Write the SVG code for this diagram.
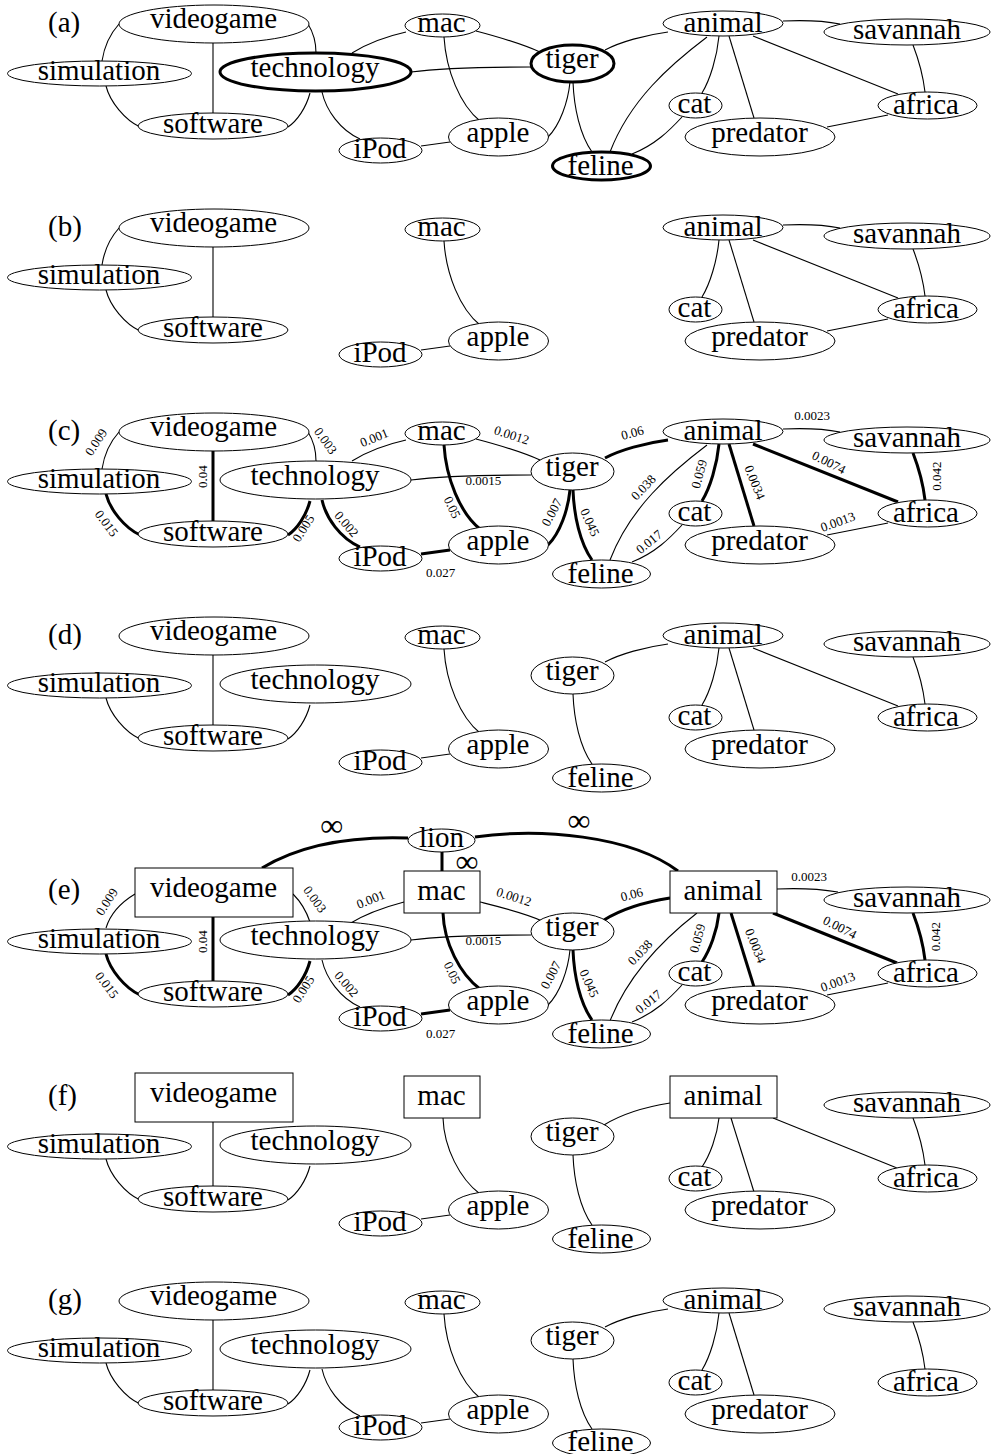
<svg xmlns="http://www.w3.org/2000/svg" width="992" height="1454" viewBox="0 0 992 1454">
<style>
.nd{fill:#fff;stroke:#000;stroke-width:1}
.bd{fill:#fff;stroke:#000;stroke-width:3}
.e{fill:none;stroke:#000;stroke-width:1.1}
.t{fill:none;stroke:#000;stroke-width:3}
.lb{font-family:"Liberation Serif","Times New Roman",serif;font-size:29px;text-anchor:middle;fill:#000}
.w{font-family:"Liberation Serif","Times New Roman",serif;font-size:13px;text-anchor:middle;dominant-baseline:central;fill:#000}
.pl{font-family:"Liberation Serif","Times New Roman",serif;font-size:29px;fill:#000}
.inf{font-family:"Liberation Serif","DejaVu Serif",serif;font-size:32px;text-anchor:middle;fill:#000}
</style>
<defs>
<path id="E_vs" d="M119,24 C110,34 104,48 102,61"/>
<path id="E_ss" d="M106,86 C110,102 125,120 140,127"/>
<path id="E_vw" d="M213,43 L213,113"/>
<path id="E_vt" d="M308,24 C313,32 316,42 316,53"/>
<path id="E_ts" d="M310,93 C306,108 297,121 288,127"/>
<path id="E_tm" d="M352,53 C368,43 388,36 406,32"/>
<path id="E_ti" d="M322,92 C326,110 340,130 360,139"/>
<path id="E_tt" d="M411,72 C440,68 480,67 531,67"/>
<path id="E_ma" d="M444,37 C446,70 460,105 480,121"/>
<path id="E_mt" d="M476,31 C495,36 520,43 540,52"/>
<path id="E_ia" d="M421,146 L450,142"/>
<path id="E_ta" d="M570,82 C568,102 560,125 548,137"/>
<path id="E_tf" d="M573,82 C574,108 580,135 592,152"/>
<path id="E_tn" d="M605,50 C620,42 645,35 668,32"/>
<path id="E_nf" d="M707,37 C670,65 630,100 610,152"/>
<path id="E_nc" d="M719,36 C717,57 710,80 702,93"/>
<path id="E_np" d="M729,36 L754,118"/>
<path id="E_na" d="M753,36 L898,94"/>
<path id="E_ns" d="M783,21 C805,20 825,21 840,24"/>
<path id="E_sa" d="M913,45 C918,58 923,75 925,92"/>
<path id="E_cf" d="M682,117 C670,130 655,145 632,154"/>
<path id="E_pa" d="M827,127 L888,115"/>
<path id="R_vs" d="M135,26 C120,35 110,47 106,60"/>
<path id="R_vt" d="M293,26 C302,35 307,45 310,54"/>
<path id="R_vw" d="M213,49 L213,113"/>
<path id="R_mt" d="M404,34 C385,39 365,46 349,56"/>
<path id="R_mg" d="M480,34 C500,39 525,45 542,53"/>
<path id="R_ma" d="M443,45 C444,75 460,106 480,121"/>
<path id="R_tn" d="M604,52 C620,42 645,34 670,30"/>
<path id="R_nf" d="M697,45 C670,66 630,102 610,153"/>
<path id="R_nc" d="M719,45 C717,63 710,82 702,94"/>
<path id="R_np" d="M731,45 L754,119"/>
<path id="R_na" d="M773,45 L897,95"/>
<path id="R_ns" d="M777,21 C800,20 820,21 838,24"/>
<path id="L_v" d="M262,0 C300,-23 350,-32 408,-30"/>
<path id="L_a" d="M475,-31 C540,-40 630,-33 678,3"/>
<path id="L_m" d="M442,-16 L442,3"/>
</defs>

<!-- ================= (a) ================= -->
<g id="panel-a">
<text class="pl" x="48" y="31.5">(a)</text>
<g id="a-edges">
<use href="#E_vs" class="e"/><use href="#E_ss" class="e"/><use href="#E_vw" class="e"/><use href="#E_vt" class="e"/>
<use href="#E_ts" class="e"/><use href="#E_tm" class="e"/><use href="#E_ti" class="e"/><use href="#E_tt" class="e"/>
<use href="#E_ma" class="e"/><use href="#E_mt" class="e"/><use href="#E_ia" class="e"/><use href="#E_ta" class="e"/>
<use href="#E_tf" class="e"/><use href="#E_tn" class="e"/><use href="#E_nf" class="e"/><use href="#E_nc" class="e"/>
<use href="#E_np" class="e"/><use href="#E_na" class="e"/><use href="#E_ns" class="e"/><use href="#E_sa" class="e"/>
<use href="#E_cf" class="e"/><use href="#E_pa" class="e"/>
</g>
<g id="a-videogame"><ellipse class="nd" cx="214" cy="24" rx="95" ry="19"/><text class="lb" x="213.5" y="28">videogame</text></g>
<g id="a-simulation"><ellipse class="nd" cx="99.5" cy="73.5" rx="92" ry="12.5"/><text class="lb" x="99" y="80">simulation</text></g>
<g id="a-technology"><ellipse class="bd" cx="315.5" cy="72" rx="95.5" ry="19"/><text class="lb" x="315" y="77">technology</text></g>
<g id="a-software"><ellipse class="nd" cx="213" cy="126" rx="75" ry="13"/><text class="lb" x="213" y="133">software</text></g>
<g id="a-mac"><ellipse class="nd" cx="442.5" cy="25.5" rx="37.5" ry="11.5"/><text class="lb" x="441.5" y="32">mac</text></g>
<g id="a-ipod"><ellipse class="nd" cx="380.5" cy="150.5" rx="41.5" ry="12.5"/><text class="lb" x="380" y="158">iPod</text></g>
<g id="a-apple"><ellipse class="nd" cx="498.5" cy="137" rx="50" ry="19"/><text class="lb" x="498" y="142">apple</text></g>
<g id="a-tiger"><ellipse class="bd" cx="572.5" cy="63.5" rx="41.5" ry="18.5"/><text class="lb" x="572" y="68">tiger</text></g>
<g id="a-feline"><ellipse class="bd" cx="601.5" cy="166" rx="49" ry="14"/><text class="lb" x="600.5" y="175">feline</text></g>
<g id="a-animal"><ellipse class="nd" cx="723" cy="23.5" rx="60" ry="12.5"/><text class="lb" x="723" y="32">animal</text></g>
<g id="a-savannah"><ellipse class="nd" cx="907" cy="32" rx="83" ry="13"/><text class="lb" x="907" y="38.5">savannah</text></g>
<g id="a-cat"><ellipse class="nd" cx="695.5" cy="105.5" rx="26.5" ry="12.5"/><text class="lb" x="694.5" y="113">cat</text></g>
<g id="a-predator"><ellipse class="nd" cx="760" cy="137" rx="75" ry="19"/><text class="lb" x="759.5" y="141.5">predator</text></g>
<g id="a-africa"><ellipse class="nd" cx="927.5" cy="105.5" rx="49.5" ry="13.5"/><text class="lb" x="926" y="113.5">africa</text></g>
</g>

<!-- ================= (b) ================= -->
<g id="panel-b" transform="translate(0,204)">
<text class="pl" x="48" y="31.5">(b)</text>
<g id="b-edges">
<use href="#E_vs" class="e"/><use href="#E_ss" class="e"/><use href="#E_vw" class="e"/>
<use href="#E_ma" class="e"/><use href="#E_ia" class="e"/>
<use href="#E_nc" class="e"/><use href="#E_np" class="e"/><use href="#E_na" class="e"/><use href="#E_ns" class="e"/>
<use href="#E_sa" class="e"/><use href="#E_pa" class="e"/>
</g>
<g id="b-videogame"><ellipse class="nd" cx="214" cy="24" rx="95" ry="19"/><text class="lb" x="213.5" y="28">videogame</text></g>
<g id="b-simulation"><ellipse class="nd" cx="99.5" cy="73.5" rx="92" ry="12.5"/><text class="lb" x="99" y="80">simulation</text></g>
<g id="b-software"><ellipse class="nd" cx="213" cy="126" rx="75" ry="13"/><text class="lb" x="213" y="133">software</text></g>
<g id="b-mac"><ellipse class="nd" cx="442.5" cy="25.5" rx="37.5" ry="11.5"/><text class="lb" x="441.5" y="32">mac</text></g>
<g id="b-ipod"><ellipse class="nd" cx="380.5" cy="150.5" rx="41.5" ry="12.5"/><text class="lb" x="380" y="158">iPod</text></g>
<g id="b-apple"><ellipse class="nd" cx="498.5" cy="137" rx="50" ry="19"/><text class="lb" x="498" y="142">apple</text></g>
<g id="b-animal"><ellipse class="nd" cx="723" cy="23.5" rx="60" ry="12.5"/><text class="lb" x="723" y="32">animal</text></g>
<g id="b-savannah"><ellipse class="nd" cx="907" cy="32" rx="83" ry="13"/><text class="lb" x="907" y="38.5">savannah</text></g>
<g id="b-cat"><ellipse class="nd" cx="695.5" cy="105.5" rx="26.5" ry="12.5"/><text class="lb" x="694.5" y="113">cat</text></g>
<g id="b-predator"><ellipse class="nd" cx="760" cy="137" rx="75" ry="19"/><text class="lb" x="759.5" y="141.5">predator</text></g>
<g id="b-africa"><ellipse class="nd" cx="927.5" cy="105.5" rx="49.5" ry="13.5"/><text class="lb" x="926" y="113.5">africa</text></g>
</g>

<!-- ================= (c) ================= -->
<g id="panel-c" transform="translate(0,408)">
<text class="pl" x="48" y="31.5">(c)</text>
<g id="c-edges">
<use href="#E_vs" class="e"/><use href="#E_ss" class="t"/><use href="#E_vw" class="t"/><use href="#E_vt" class="e"/>
<use href="#E_ts" class="t"/><use href="#E_tm" class="e"/><use href="#E_ti" class="t"/><use href="#E_tt" class="e"/>
<use href="#E_ma" class="t"/><use href="#E_mt" class="e"/><use href="#E_ia" class="t"/><use href="#E_ta" class="t"/>
<use href="#E_tf" class="t"/><use href="#E_tn" class="t"/><use href="#E_nf" class="e"/><use href="#E_nc" class="t"/>
<use href="#E_np" class="t"/><use href="#E_na" class="t"/><use href="#E_ns" class="e"/><use href="#E_sa" class="t"/>
<use href="#E_cf" class="e"/><use href="#E_pa" class="e"/>
</g>
<g id="c-weights">
<text class="w" transform="translate(96,34) rotate(-57)">0.009</text>
<text class="w" transform="translate(202.3,68.7) rotate(-90)">0.04</text>
<text class="w" transform="translate(325.7,32.7) rotate(54)">0.003</text>
<text class="w" transform="translate(106.7,115.3) rotate(53)">0.015</text>
<text class="w" transform="translate(303.3,120.3) rotate(-58)">0.005</text>
<text class="w" transform="translate(346.7,116) rotate(50)">0.002</text>
<text class="w" transform="translate(440.7,164.7)">0.027</text>
<text class="w" transform="translate(374,29.7) rotate(-22)">0.001</text>
<text class="w" transform="translate(511.7,27) rotate(18)">0.0012</text>
<text class="w" transform="translate(483.3,72)">0.0015</text>
<text class="w" transform="translate(452.3,99.3) rotate(65)">0.05</text>
<text class="w" transform="translate(551.7,104.3) rotate(-62)">0.007</text>
<text class="w" transform="translate(590,114.3) rotate(66)">0.045</text>
<text class="w" transform="translate(632.3,24.7) rotate(-15)">0.06</text>
<text class="w" transform="translate(812,7)">0.0023</text>
<text class="w" transform="translate(643.3,79.3) rotate(-47)">0.038</text>
<text class="w" transform="translate(699,66) rotate(-75)">0.059</text>
<text class="w" transform="translate(755,74.3) rotate(68)">0.0034</text>
<text class="w" transform="translate(829,54.3) rotate(27)">0.0074</text>
<text class="w" transform="translate(936.7,68) rotate(-90)">0.042</text>
<text class="w" transform="translate(649,133.7) rotate(-39)">0.017</text>
<text class="w" transform="translate(837.7,113.7) rotate(-20)">0.0013</text>
</g>
<g id="c-videogame"><ellipse class="nd" cx="214" cy="24" rx="95" ry="19"/><text class="lb" x="213.5" y="28">videogame</text></g>
<g id="c-simulation"><ellipse class="nd" cx="99.5" cy="73.5" rx="92" ry="12.5"/><text class="lb" x="99" y="80">simulation</text></g>
<g id="c-technology"><ellipse class="nd" cx="315.5" cy="72" rx="95.5" ry="19"/><text class="lb" x="315" y="77">technology</text></g>
<g id="c-software"><ellipse class="nd" cx="213" cy="126" rx="75" ry="13"/><text class="lb" x="213" y="133">software</text></g>
<g id="c-mac"><ellipse class="nd" cx="442.5" cy="25.5" rx="37.5" ry="11.5"/><text class="lb" x="441.5" y="32">mac</text></g>
<g id="c-ipod"><ellipse class="nd" cx="380.5" cy="150.5" rx="41.5" ry="12.5"/><text class="lb" x="380" y="158">iPod</text></g>
<g id="c-apple"><ellipse class="nd" cx="498.5" cy="137" rx="50" ry="19"/><text class="lb" x="498" y="142">apple</text></g>
<g id="c-tiger"><ellipse class="nd" cx="572.5" cy="63.5" rx="41.5" ry="18.5"/><text class="lb" x="572" y="68">tiger</text></g>
<g id="c-feline"><ellipse class="nd" cx="601.5" cy="166" rx="49" ry="14"/><text class="lb" x="600.5" y="175">feline</text></g>
<g id="c-animal"><ellipse class="nd" cx="723" cy="23.5" rx="60" ry="12.5"/><text class="lb" x="723" y="32">animal</text></g>
<g id="c-savannah"><ellipse class="nd" cx="907" cy="32" rx="83" ry="13"/><text class="lb" x="907" y="38.5">savannah</text></g>
<g id="c-cat"><ellipse class="nd" cx="695.5" cy="105.5" rx="26.5" ry="12.5"/><text class="lb" x="694.5" y="113">cat</text></g>
<g id="c-predator"><ellipse class="nd" cx="760" cy="137" rx="75" ry="19"/><text class="lb" x="759.5" y="141.5">predator</text></g>
<g id="c-africa"><ellipse class="nd" cx="927.5" cy="105.5" rx="49.5" ry="13.5"/><text class="lb" x="926" y="113.5">africa</text></g>
</g>

<!-- ================= (d) ================= -->
<g id="panel-d" transform="translate(0,612)">
<text class="pl" x="48" y="31.5">(d)</text>
<g id="d-edges">
<use href="#E_vw" class="e"/><use href="#E_ss" class="e"/><use href="#E_ts" class="e"/>
<use href="#E_ma" class="e"/><use href="#E_ia" class="e"/>
<use href="#E_tn" class="e"/><use href="#E_tf" class="e"/><use href="#E_nc" class="e"/><use href="#E_np" class="e"/>
<use href="#E_na" class="e"/><use href="#E_sa" class="e"/>
</g>
<g id="d-videogame"><ellipse class="nd" cx="214" cy="24" rx="95" ry="19"/><text class="lb" x="213.5" y="28">videogame</text></g>
<g id="d-simulation"><ellipse class="nd" cx="99.5" cy="73.5" rx="92" ry="12.5"/><text class="lb" x="99" y="80">simulation</text></g>
<g id="d-technology"><ellipse class="nd" cx="315.5" cy="72" rx="95.5" ry="19"/><text class="lb" x="315" y="77">technology</text></g>
<g id="d-software"><ellipse class="nd" cx="213" cy="126" rx="75" ry="13"/><text class="lb" x="213" y="133">software</text></g>
<g id="d-mac"><ellipse class="nd" cx="442.5" cy="25.5" rx="37.5" ry="11.5"/><text class="lb" x="441.5" y="32">mac</text></g>
<g id="d-ipod"><ellipse class="nd" cx="380.5" cy="150.5" rx="41.5" ry="12.5"/><text class="lb" x="380" y="158">iPod</text></g>
<g id="d-apple"><ellipse class="nd" cx="498.5" cy="137" rx="50" ry="19"/><text class="lb" x="498" y="142">apple</text></g>
<g id="d-tiger"><ellipse class="nd" cx="572.5" cy="63.5" rx="41.5" ry="18.5"/><text class="lb" x="572" y="68">tiger</text></g>
<g id="d-feline"><ellipse class="nd" cx="601.5" cy="166" rx="49" ry="14"/><text class="lb" x="600.5" y="175">feline</text></g>
<g id="d-animal"><ellipse class="nd" cx="723" cy="23.5" rx="60" ry="12.5"/><text class="lb" x="723" y="32">animal</text></g>
<g id="d-savannah"><ellipse class="nd" cx="907" cy="32" rx="83" ry="13"/><text class="lb" x="907" y="38.5">savannah</text></g>
<g id="d-cat"><ellipse class="nd" cx="695.5" cy="105.5" rx="26.5" ry="12.5"/><text class="lb" x="694.5" y="113">cat</text></g>
<g id="d-predator"><ellipse class="nd" cx="760" cy="137" rx="75" ry="19"/><text class="lb" x="759.5" y="141.5">predator</text></g>
<g id="d-africa"><ellipse class="nd" cx="927.5" cy="105.5" rx="49.5" ry="13.5"/><text class="lb" x="926" y="113.5">africa</text></g>
</g>

<!-- ================= (e) ================= -->
<g id="panel-e" transform="translate(0,868)">
<text class="pl" x="48" y="30.5">(e)</text>
<g id="e-edges">
<use href="#L_v" class="t"/><use href="#L_a" class="t"/><use href="#L_m" class="t"/>
<use href="#R_vs" class="e"/><use href="#E_ss" class="t"/><use href="#R_vw" class="t"/><use href="#R_vt" class="e"/>
<use href="#E_ts" class="t"/><use href="#R_mt" class="e"/><use href="#E_ti" class="e"/><use href="#E_tt" class="e"/>
<use href="#R_ma" class="t"/><use href="#R_mg" class="e"/><use href="#E_ia" class="t"/><use href="#E_ta" class="e"/>
<use href="#E_tf" class="t"/><use href="#R_tn" class="t"/><use href="#R_nf" class="e"/><use href="#R_nc" class="t"/>
<use href="#R_np" class="t"/><use href="#R_na" class="t"/><use href="#R_ns" class="e"/><use href="#E_sa" class="t"/>
<use href="#E_cf" class="e"/><use href="#E_pa" class="e"/>
</g>
<g id="e-weights">
<text class="inf" x="331.7" y="-32.5">∞</text>
<text class="inf" x="579" y="-37.5">∞</text>
<text class="inf" x="467" y="3.5">∞</text>
<text class="w" transform="translate(106.7,33.7) rotate(-57)">0.009</text>
<text class="w" transform="translate(202.3,73.7) rotate(-90)">0.04</text>
<text class="w" transform="translate(315,31.3) rotate(54)">0.003</text>
<text class="w" transform="translate(107,117) rotate(53)">0.015</text>
<text class="w" transform="translate(303.3,121.3) rotate(-58)">0.005</text>
<text class="w" transform="translate(346.7,116) rotate(50)">0.002</text>
<text class="w" transform="translate(440.7,165.3)">0.027</text>
<text class="w" transform="translate(370.7,31.3) rotate(-22)">0.001</text>
<text class="w" transform="translate(514,28.7) rotate(18)">0.0012</text>
<text class="w" transform="translate(483.3,72.7)">0.0015</text>
<text class="w" transform="translate(452.3,104.7) rotate(65)">0.05</text>
<text class="w" transform="translate(550.7,107) rotate(-62)">0.007</text>
<text class="w" transform="translate(589.3,115.3) rotate(66)">0.045</text>
<text class="w" transform="translate(631.7,26.3) rotate(-15)">0.06</text>
<text class="w" transform="translate(809,8)">0.0023</text>
<text class="w" transform="translate(640,84.3) rotate(-47)">0.038</text>
<text class="w" transform="translate(697.3,70.3) rotate(-75)">0.059</text>
<text class="w" transform="translate(755.7,77.7) rotate(68)">0.0034</text>
<text class="w" transform="translate(840,59.3) rotate(27)">0.0074</text>
<text class="w" transform="translate(935.7,68.7) rotate(-90)">0.042</text>
<text class="w" transform="translate(648.3,133.7) rotate(-39)">0.017</text>
<text class="w" transform="translate(837.7,113.7) rotate(-20)">0.0013</text>
</g>
<g id="e-lion"><ellipse class="nd" cx="441.5" cy="-27.5" rx="33.5" ry="11.5"/><text class="lb" x="441.5" y="-21">lion</text></g>
<g id="e-videogame"><rect class="nd" x="135" y="0" width="158" height="49"/><text class="lb" x="213.5" y="28.5">videogame</text></g>
<g id="e-simulation"><ellipse class="nd" cx="99.5" cy="73.5" rx="92" ry="12.5"/><text class="lb" x="99" y="80">simulation</text></g>
<g id="e-technology"><ellipse class="nd" cx="315.5" cy="72" rx="95.5" ry="19"/><text class="lb" x="315" y="77">technology</text></g>
<g id="e-software"><ellipse class="nd" cx="213" cy="126" rx="75" ry="13"/><text class="lb" x="213" y="133">software</text></g>
<g id="e-mac"><rect class="nd" x="404" y="3" width="76" height="42"/><text class="lb" x="441.5" y="32">mac</text></g>
<g id="e-ipod"><ellipse class="nd" cx="380.5" cy="150.5" rx="41.5" ry="12.5"/><text class="lb" x="380" y="158">iPod</text></g>
<g id="e-apple"><ellipse class="nd" cx="498.5" cy="137" rx="50" ry="19"/><text class="lb" x="498" y="142">apple</text></g>
<g id="e-tiger"><ellipse class="nd" cx="572.5" cy="63.5" rx="41.5" ry="18.5"/><text class="lb" x="572" y="68">tiger</text></g>
<g id="e-feline"><ellipse class="nd" cx="601.5" cy="166" rx="49" ry="14"/><text class="lb" x="600.5" y="175">feline</text></g>
<g id="e-animal"><rect class="nd" x="670" y="3" width="107" height="42"/><text class="lb" x="723" y="31.5">animal</text></g>
<g id="e-savannah"><ellipse class="nd" cx="907" cy="32" rx="83" ry="13"/><text class="lb" x="907" y="38.5">savannah</text></g>
<g id="e-cat"><ellipse class="nd" cx="695.5" cy="105.5" rx="26.5" ry="12.5"/><text class="lb" x="694.5" y="113">cat</text></g>
<g id="e-predator"><ellipse class="nd" cx="760" cy="137" rx="75" ry="19"/><text class="lb" x="759.5" y="141.5">predator</text></g>
<g id="e-africa"><ellipse class="nd" cx="927.5" cy="105.5" rx="49.5" ry="13.5"/><text class="lb" x="926" y="113.5">africa</text></g>
</g>

<!-- ================= (f) ================= -->
<g id="panel-f" transform="translate(0,1073)">
<text class="pl" x="48" y="31.5">(f)</text>
<g id="f-edges">
<use href="#R_vw" class="e"/><use href="#E_ss" class="e"/><use href="#E_ts" class="e"/>
<use href="#R_ma" class="e"/><use href="#E_ia" class="e"/>
<use href="#R_tn" class="e"/><use href="#E_tf" class="e"/><use href="#R_nc" class="e"/><use href="#R_np" class="e"/>
<use href="#R_na" class="e"/><use href="#E_sa" class="e"/>
</g>
<g id="f-videogame"><rect class="nd" x="135" y="0" width="158" height="49"/><text class="lb" x="213.5" y="28.5">videogame</text></g>
<g id="f-simulation"><ellipse class="nd" cx="99.5" cy="73.5" rx="92" ry="12.5"/><text class="lb" x="99" y="80">simulation</text></g>
<g id="f-technology"><ellipse class="nd" cx="315.5" cy="72" rx="95.5" ry="19"/><text class="lb" x="315" y="77">technology</text></g>
<g id="f-software"><ellipse class="nd" cx="213" cy="126" rx="75" ry="13"/><text class="lb" x="213" y="133">software</text></g>
<g id="f-mac"><rect class="nd" x="404" y="3" width="76" height="42"/><text class="lb" x="441.5" y="32">mac</text></g>
<g id="f-ipod"><ellipse class="nd" cx="380.5" cy="150.5" rx="41.5" ry="12.5"/><text class="lb" x="380" y="158">iPod</text></g>
<g id="f-apple"><ellipse class="nd" cx="498.5" cy="137" rx="50" ry="19"/><text class="lb" x="498" y="142">apple</text></g>
<g id="f-tiger"><ellipse class="nd" cx="572.5" cy="63.5" rx="41.5" ry="18.5"/><text class="lb" x="572" y="68">tiger</text></g>
<g id="f-feline"><ellipse class="nd" cx="601.5" cy="166" rx="49" ry="14"/><text class="lb" x="600.5" y="175">feline</text></g>
<g id="f-animal"><rect class="nd" x="670" y="3" width="107" height="42"/><text class="lb" x="723" y="31.5">animal</text></g>
<g id="f-savannah"><ellipse class="nd" cx="907" cy="32" rx="83" ry="13"/><text class="lb" x="907" y="38.5">savannah</text></g>
<g id="f-cat"><ellipse class="nd" cx="695.5" cy="105.5" rx="26.5" ry="12.5"/><text class="lb" x="694.5" y="113">cat</text></g>
<g id="f-predator"><ellipse class="nd" cx="760" cy="137" rx="75" ry="19"/><text class="lb" x="759.5" y="141.5">predator</text></g>
<g id="f-africa"><ellipse class="nd" cx="927.5" cy="105.5" rx="49.5" ry="13.5"/><text class="lb" x="926" y="113.5">africa</text></g>
</g>

<!-- ================= (g) ================= -->
<g id="panel-g" transform="translate(0,1277)">
<text class="pl" x="48" y="31.5">(g)</text>
<g id="g-edges">
<use href="#E_vw" class="e"/><use href="#E_ss" class="e"/><use href="#E_ts" class="e"/><use href="#E_ti" class="e"/>
<use href="#E_ma" class="e"/><use href="#E_ia" class="e"/>
<use href="#E_tn" class="e"/><use href="#E_tf" class="e"/><use href="#E_nc" class="e"/><use href="#E_np" class="e"/>
<use href="#E_sa" class="e"/>
</g>
<g id="g-videogame"><ellipse class="nd" cx="214" cy="24" rx="95" ry="19"/><text class="lb" x="213.5" y="28">videogame</text></g>
<g id="g-simulation"><ellipse class="nd" cx="99.5" cy="73.5" rx="92" ry="12.5"/><text class="lb" x="99" y="80">simulation</text></g>
<g id="g-technology"><ellipse class="nd" cx="315.5" cy="72" rx="95.5" ry="19"/><text class="lb" x="315" y="77">technology</text></g>
<g id="g-software"><ellipse class="nd" cx="213" cy="126" rx="75" ry="13"/><text class="lb" x="213" y="133">software</text></g>
<g id="g-mac"><ellipse class="nd" cx="442.5" cy="25.5" rx="37.5" ry="11.5"/><text class="lb" x="441.5" y="32">mac</text></g>
<g id="g-ipod"><ellipse class="nd" cx="380.5" cy="150.5" rx="41.5" ry="12.5"/><text class="lb" x="380" y="158">iPod</text></g>
<g id="g-apple"><ellipse class="nd" cx="498.5" cy="137" rx="50" ry="19"/><text class="lb" x="498" y="142">apple</text></g>
<g id="g-tiger"><ellipse class="nd" cx="572.5" cy="63.5" rx="41.5" ry="18.5"/><text class="lb" x="572" y="68">tiger</text></g>
<g id="g-feline"><ellipse class="nd" cx="601.5" cy="166" rx="49" ry="14"/><text class="lb" x="600.5" y="174">feline</text></g>
<g id="g-animal"><ellipse class="nd" cx="723" cy="23.5" rx="60" ry="12.5"/><text class="lb" x="723" y="32">animal</text></g>
<g id="g-savannah"><ellipse class="nd" cx="907" cy="32" rx="83" ry="13"/><text class="lb" x="907" y="38.5">savannah</text></g>
<g id="g-cat"><ellipse class="nd" cx="695.5" cy="105.5" rx="26.5" ry="12.5"/><text class="lb" x="694.5" y="113">cat</text></g>
<g id="g-predator"><ellipse class="nd" cx="760" cy="137" rx="75" ry="19"/><text class="lb" x="759.5" y="141.5">predator</text></g>
<g id="g-africa"><ellipse class="nd" cx="927.5" cy="105.5" rx="49.5" ry="13.5"/><text class="lb" x="926" y="113.5">africa</text></g>
</g>
</svg>
